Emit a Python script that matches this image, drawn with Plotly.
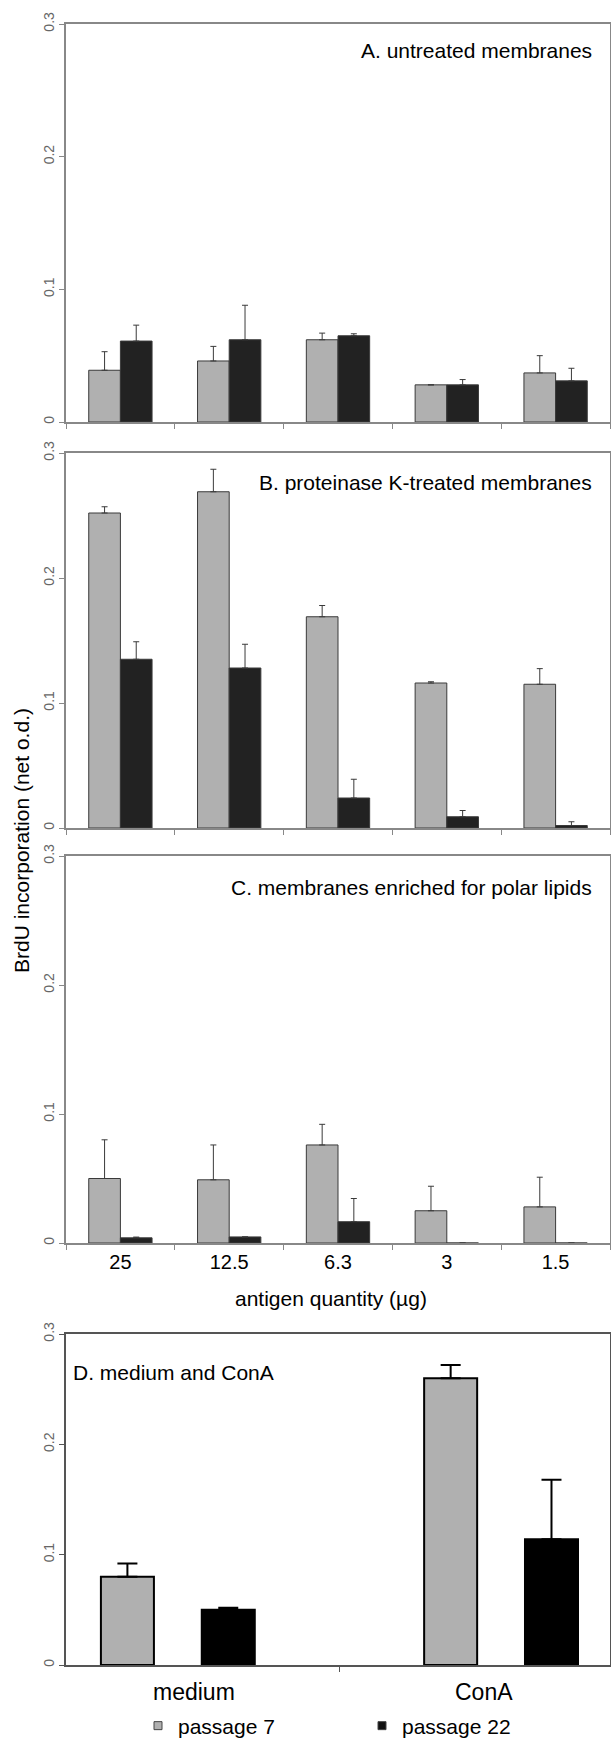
import plotly.graph_objects as go

# ---------------- data ----------------
doses = ["25", "12.5", "6.3", "3", "1.5"]

a_p7 = [0.039, 0.046, 0.062, 0.028, 0.037]
a_p7_err = [0.014, 0.011, 0.005, 0.0, 0.013]
a_p22 = [0.061, 0.062, 0.065, 0.028, 0.031]
a_p22_err = [0.012, 0.026, 0.0015, 0.004, 0.0095]

b_p7 = [0.252, 0.269, 0.169, 0.116, 0.115]
b_p7_err = [0.005, 0.018, 0.009, 0.001, 0.0125]
b_p22 = [0.135, 0.128, 0.024, 0.009, 0.002]
b_p22_err = [0.014, 0.019, 0.015, 0.005, 0.003]

c_p7 = [0.050, 0.049, 0.076, 0.025, 0.028]
c_p7_err = [0.030, 0.027, 0.016, 0.019, 0.023]
c_p22 = [0.004, 0.0047, 0.0165, 0.0, 0.0]
c_p22_err = [0.0006, 0.0, 0.018, 0.0, 0.0]

d_cats = ["medium", "ConA"]
d_p7 = [0.080, 0.260]
d_p7_err = [0.012, 0.012]
d_p22 = [0.050, 0.114]
d_p22_err = [0.002, 0.054]

series_names = ["passage 7", "passage 22"]
panel_titles = ["A. untreated membranes", "B. proteinase K-treated membranes",
                "C. membranes enriched for polar lipids", "D. medium and ConA"]
y_ticks = [0, 0.1, 0.2, 0.3]
y_ticktext = ["0", "0.1", "0.2", "0.3"]
x_title = "antigen quantity (\u00b5g)"
y_title = "BrdU incorporation (net o.d.)"

# ---------------- style ----------------
W, H = 611, 1739
FONT = "Arial, 'Liberation Sans', sans-serif"
GRAY = "#b0b0b0"
DARK = "#222222"
X0, X1 = 66, 610
panels_px = [(24, 422), (453, 828), (856, 1243), (1334, 1665)]


def px_x(p):
    return p / W


def px_y(p):
    return 1 - p / H


fig = go.Figure()

abc = [(a_p7, a_p7_err, a_p22, a_p22_err),
       (b_p7, b_p7_err, b_p22, b_p22_err),
       (c_p7, c_p7_err, c_p22, c_p22_err)]

BW = 0.291
for i, (v7, e7, v22, e22) in enumerate(abc):
    ax = "" if i == 0 else str(i + 1)
    fig.add_trace(go.Bar(
        x=doses, y=v7, name=series_names[0], showlegend=False,
        width=BW, offset=-BW, xaxis="x" + ax, yaxis="y" + ax,
        marker=dict(color=GRAY, line=dict(color="#3a3a3a", width=1)),
        error_y=dict(type="data", array=e7, arrayminus=[0] * len(e7), symmetric=False,
                     color="#3a3a3a", thickness=1, width=3)))
    fig.add_trace(go.Bar(
        x=doses, y=v22, name=series_names[1], showlegend=False,
        width=BW, offset=0, xaxis="x" + ax, yaxis="y" + ax,
        marker=dict(color=DARK, line=dict(color="#3a3a3a", width=1)),
        error_y=dict(type="data", array=e22, arrayminus=[0] * len(e22), symmetric=False,
                     color="#3a3a3a", thickness=1, width=3)))

DW = 0.164
fig.add_trace(go.Bar(
    x=d_cats, y=d_p7, name=series_names[0], showlegend=False,
    width=DW, offset=-0.238, xaxis="x4", yaxis="y4",
    marker=dict(color=GRAY, line=dict(color="#000000", width=2)),
    error_y=dict(type="data", array=d_p7_err, arrayminus=[0, 0], symmetric=False,
                 color="#000000", thickness=2, width=10)))
fig.add_trace(go.Bar(
    x=d_cats, y=d_p22, name=series_names[1], showlegend=False,
    width=DW, offset=0.074, xaxis="x4", yaxis="y4",
    marker=dict(color="#000000", line=dict(color="#000000", width=2)),
    error_y=dict(type="data", array=d_p22_err, arrayminus=[0, 0], symmetric=False,
                 color="#000000", thickness=2, width=10)))

# legend keys (small squares as in the original)
for name, col in zip(series_names, [GRAY, "#111111"]):
    fig.add_trace(go.Scatter(
        x=[None], y=[None], mode="markers", name=name, showlegend=True,
        xaxis="x4", yaxis="y4",
        marker=dict(symbol="square", size=8, color=col, line=dict(color="#444444", width=1))))

layout = dict(
    width=W, height=H, autosize=False,
    margin=dict(l=0, r=0, t=0, b=0, pad=0, autoexpand=False),
    paper_bgcolor="white", plot_bgcolor="white",
    font=dict(family=FONT, color="#000000"),
    barmode="group",
    showlegend=True,
    legend=dict(orientation="h", x=px_x(138), xanchor="left", y=px_y(1726), yanchor="middle",
                font=dict(size=21, family=FONT), entrywidth=179, entrywidthmode="pixels",
                bgcolor="rgba(0,0,0,0)", itemclick=False, traceorder="normal"),
)

for i, (top, bot) in enumerate(panels_px):
    ax = "" if i == 0 else str(i + 1)
    linecol = "#888888" if i < 3 else "#555555"
    xa = dict(domain=[px_x(X0), px_x(X1)], anchor="y" + ax, type="category",
              showline=True, linecolor=linecol, linewidth=1.5, mirror=True,
              ticks="outside", ticklen=5, tickcolor=linecol, tickwidth=1,
              tickson="boundaries", showgrid=False, zeroline=False, fixedrange=True)
    if i < 3:
        xa.update(range=[-0.5, 4.5], showticklabels=(i == 2),
                  tickfont=dict(size=20, color="#000000"))
    else:
        xa.update(range=[-0.346, 1.337], showticklabels=False)
    ya = dict(domain=[px_y(bot), px_y(top)], anchor="x" + ax, range=[0, 0.3],
              showline=True, linecolor=linecol, linewidth=1.5, mirror=True,
              ticks="outside", ticklen=5, tickcolor=linecol, tickwidth=1,
              tickvals=y_ticks, ticktext=y_ticktext, tickangle=-90,
              tickfont=dict(size=14, color="#666666"),
              showgrid=False, zeroline=False, fixedrange=True)
    layout["xaxis" + ax] = xa
    layout["yaxis" + ax] = ya

annotations = []
title_pos = [(594, 50, "right"), (594, 482.7, "right"), (594, 887, "right"), (71, 1372.7, "left")]
for t, (x, y, anc) in zip(panel_titles, title_pos):
    annotations.append(dict(text=t, x=px_x(x), y=px_y(y), xref="paper", yref="paper",
                            xanchor=anc, yanchor="middle", showarrow=False,
                            font=dict(size=21, family=FONT, color="#000000")))
annotations.append(dict(text=x_title, x=px_x(330.5), y=px_y(1298), xref="paper", yref="paper",
                        xanchor="center", yanchor="middle", showarrow=False,
                        font=dict(size=21, family=FONT, color="#000000")))
annotations.append(dict(text=y_title, x=px_x(21), y=px_y(841), xref="paper", yref="paper",
                        xanchor="center", yanchor="middle", showarrow=False, textangle=-90,
                        font=dict(size=21, family=FONT, color="#000000")))
for c, xp in zip(d_cats, [194, 484]):
    annotations.append(dict(text=c, x=px_x(xp), y=px_y(1692), xref="paper", yref="paper",
                            xanchor="center", yanchor="middle", showarrow=False,
                            font=dict(size=23, family=FONT, color="#000000")))
layout["annotations"] = annotations

fig.update_layout(**layout)
fig.write_html("out.html", config={"displayModeBar": False},
               post_script="document.body.style.margin='0';")
